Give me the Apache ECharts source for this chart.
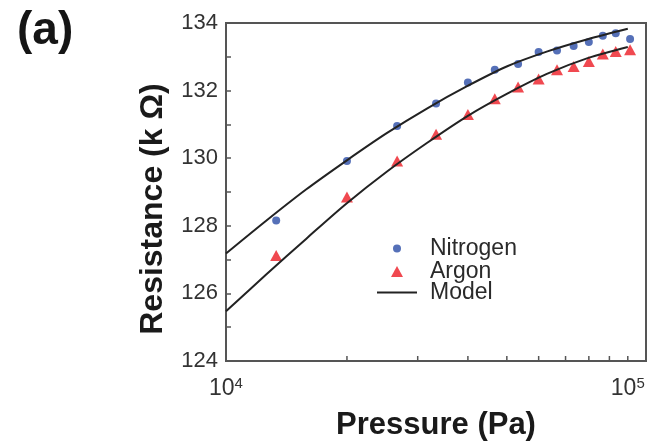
<!DOCTYPE html>
<html>
<head>
<meta charset="utf-8">
<script src="https://cdn.jsdelivr.net/npm/echarts@6/dist/echarts.min.js"></script>
<style>
html,body{margin:0;padding:0;background:#fff;}
#chart{width:650px;height:446px;}
</style>
</head>
<body>
<div id="chart"></div>
<script>
// Pressures (Pa) for measured points (50 Torr steps up to 760 Torr)
var pressures = [13332, 20000, 26664, 33330, 40000, 46662, 53329, 59995, 66661, 73327, 79993, 86660, 93326, 101325];
var nitrogen = [128.16, 129.92, 130.95, 131.62, 132.24, 132.62, 132.79, 133.14, 133.19, 133.32, 133.44, 133.62, 133.70, 133.53];
var argon = [127.12, 128.85, 129.92, 130.71, 131.29, 131.76, 132.11, 132.34, 132.62, 132.71, 132.86, 133.08, 133.16, 133.21];
// Model curves (read at log-spaced pressures)
var modelPressures = [10000, 12589, 15849, 19953, 25119, 31623, 39811, 50119, 63096, 79433, 100000];
var modelNitrogen = [127.18, 128.15, 129.08, 129.93, 130.74, 131.47, 132.13, 132.72, 133.16, 133.52, 133.83];
var modelArgon = [125.47, 126.56, 127.62, 128.66, 129.60, 130.45, 131.24, 131.91, 132.50, 132.96, 133.29];
// Minor x ticks
var xMinorTicks = [20000, 30000, 40000, 50000, 60000, 70000, 80000, 90000, 100000];
var yTicks = [124, 126, 128, 130, 132, 134];

function pairs(xs, ys){ return xs.map(function(x,i){ return [x, ys[i]]; }); }

var FONT = 'Liberation Sans, Arial, sans-serif';
var legendText = {fontFamily:FONT, fontSize:23, lineHeight:22, color:'#2a2a2a'};
function legendText2(pad){ var o = Object.assign({}, legendText); o.padding = [0,0,0,pad]; return o; }

var chart = echarts.init(document.getElementById('chart'), null, {renderer:'canvas'});
chart.setOption({
  animation:false,
  backgroundColor:'#fff',
  title:{
    text:'(a)', left:12, top:3,
    textStyle:{fontFamily:FONT, fontSize:46, fontWeight:'bold', color:'#151515'}
  },
  grid:{left:226, right:4, top:23, bottom:83, show:true, borderColor:'#555', borderWidth:2, backgroundColor:'transparent'},
  legend:[
    {
      orient:'vertical', left:388, top:232, itemGap:0, itemWidth:8, itemHeight:8,
      textStyle:legendText2(24),
      data:[{name:'Nitrogen', icon:'circle'}]
    },
    {
      orient:'vertical', left:386, top:255, itemGap:0, itemWidth:12, itemHeight:11,
      textStyle:legendText2(22),
      data:[{name:'Argon', icon:'triangle'}]
    },
    {
      orient:'vertical', left:372, top:276, itemGap:0, itemWidth:40, itemHeight:2,
      textStyle:legendText2(8),
      data:[{name:'Model', icon:'path://M0,0 L40,0 L40,2 L0,2 Z'}]
    }
  ],
  xAxis:{
    type:'log', logBase:10, min:10000, max:111000,
    name:'Pressure (Pa)', nameLocation:'middle', nameGap:49,
    nameTextStyle:{fontFamily:FONT, fontSize:31, fontWeight:'bold', color:'#1a1a1a'},
    axisLine:{show:true, lineStyle:{color:'#555', width:2}},
    axisTick:{show:false},
    splitLine:{show:false},
    axisLabel:{
      margin:15, color:'#333',
      formatter:function(v){
        var e = Math.log10(v);
        if (Math.abs(e - Math.round(e)) > 1e-6) return '';
        return '{b|10}{s|' + Math.round(e) + '}';
      },
      rich:{
        b:{fontFamily:FONT, fontSize:23, color:'#333'},
        s:{fontFamily:FONT, fontSize:15, color:'#333', verticalAlign:'top', padding:[0,0,10,0]}
      }
    }
  },
  yAxis:{
    type:'value', min:124, max:134, interval:1,
    name:'Resistance (k \u03A9)', nameLocation:'middle', nameGap:57,
    nameTextStyle:{fontFamily:FONT, fontSize:32, fontWeight:'bold', color:'#1a1a1a', padding:[0,34,0,0]},
    axisLine:{show:true, lineStyle:{color:'#555', width:2}},
    axisTick:{show:true, inside:true, length:5, lineStyle:{color:'#555', width:1.5}},
    splitLine:{show:false},
    axisLabel:{
      margin:8, color:'#333', fontFamily:FONT, fontSize:22,
      formatter:function(v){ return yTicks.indexOf(v) >= 0 ? String(v) : ''; }
    }
  },
  series:[
    {
      name:'Nitrogen', type:'scatter', symbol:'circle', symbolSize:8,
      itemStyle:{color:'#2a4ca6'},
      data:pairs(pressures, nitrogen), z:3
    },
    {
      name:'Argon', type:'scatter', symbol:'triangle', symbolSize:[12,11],
      itemStyle:{color:'#ec1c24'},
      data:pairs(pressures, argon), z:3
    },
    {
      name:'Model', type:'line', symbol:'none', smooth:0.3,
      lineStyle:{color:'#222', width:2}, itemStyle:{color:'#222'},
      data:pairs(modelPressures, modelNitrogen), z:4
    },
    {
      name:'Model', type:'line', symbol:'none', smooth:0.3,
      lineStyle:{color:'#222', width:2}, itemStyle:{color:'#222'},
      data:pairs(modelPressures, modelArgon), z:4
    },
    {
      name:'xticks', type:'custom', silent:true, z:5,
      data:xMinorTicks.map(function(p){ return [p, 124]; }),
      renderItem:function(params, api){
        var pt = api.coord([api.value(0), api.value(1)]);
        return {type:'line', shape:{x1:pt[0], y1:pt[1], x2:pt[0], y2:pt[1]-5}, style:{stroke:'#555', lineWidth:1.5}};
      }
    }
  ]
});
</script>
</body>
</html>
